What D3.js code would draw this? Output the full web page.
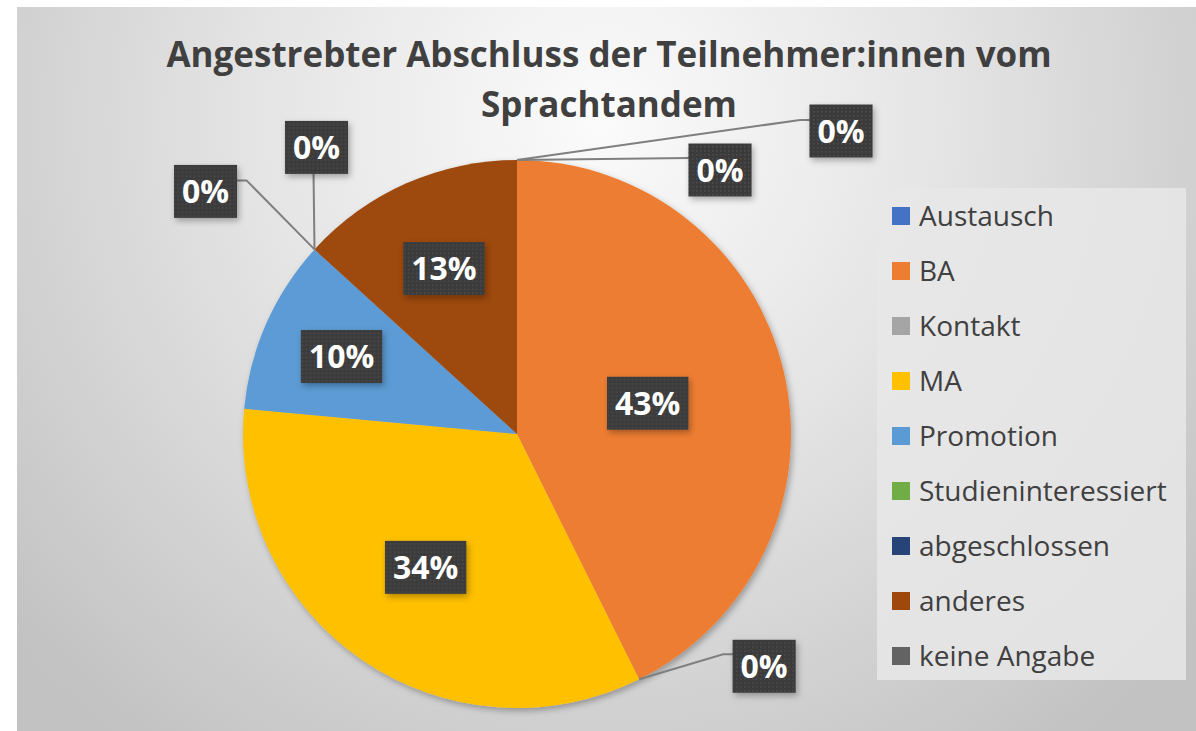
<!DOCTYPE html>
<html>
<head>
<meta charset="utf-8">
<script src="https://cdn.jsdelivr.net/npm/d3@7"></script>
<style>
  body { margin: 0; background: #fff; }
  svg text { font-family: "Open Sans", Lato, sans-serif; }
</style>
</head>
<body>
<div id="chart"></div>
<script>
// Angestrebter Abschluss - pie chart

var categories = ["Austausch", "BA", "Kontakt", "MA", "Promotion",
  "Studieninteressiert", "abgeschlossen", "anderes", "keine Angabe"];
var counts = [0, 29, 0, 23, 7, 0, 0, 9, 0];
var colors = ["#4472C4", "#ED7D31", "#A5A5A5", "#FFC000", "#5B9BD5",
  "#70AD47", "#264478", "#9E480E", "#636363"];
var titleLines = ["Angestrebter Abschluss der Teilnehmer:innen vom", "Sprachtandem"];

var width = 1196, height = 731;
var cx = 517, cy = 434, radius = 274;

// where the labels sit: inside slices by radius fraction, zero slices outside
var insideLabelRadius = { "BA": 0.49, "MA": 0.59, "Promotion": 0.7, "anderes": 0.66 };
// box centre and leader points relative to the slice's point on the rim
var outsideLabels = {
  "Austausch":           { box: [324, -29], leader: [[283, -40], [293, -40]] },
  "keine Angabe":        { box: [203, 10],  leader: [[172, -2]] },
  "Kontakt":             { box: [125, -13], leader: [[84, -25], [94, -25]] },
  "Studieninteressiert": { box: [-109, -58], leader: [[-68, -69], [-78, -69]] },
  "abgeschlossen":       { box: [2, -102],  leader: [[-1, -76]] }
};

var data = categories.map(function(c, i) {
  return { name: c, count: counts[i], color: colors[i] };
});
var total = d3.sum(counts);
var pct = d3.format(".0%");

var svg = d3.select("#chart").append("svg")
    .attr("width", width)
    .attr("height", height);

var defs = svg.append("defs");

var bg = defs.append("radialGradient")
    .attr("id", "bg")
    .attr("gradientUnits", "userSpaceOnUse")
    .attr("cx", 600).attr("cy", 120).attr("r", 780);
bg.append("stop").attr("offset", 0).attr("stop-color", "#fbfbfb");
bg.append("stop").attr("offset", 0.45).attr("stop-color", "#e4e4e4");
bg.append("stop").attr("offset", 1).attr("stop-color", "#c2c2c2");

var dots = defs.append("pattern")
    .attr("id", "dots")
    .attr("width", 4).attr("height", 4)
    .attr("patternUnits", "userSpaceOnUse");
dots.append("rect").attr("width", 4).attr("height", 4).attr("fill", "#3b3b3b");
dots.append("rect").attr("width", 1.5).attr("height", 1.5).attr("fill", "#4e4e4e");

var shadow = defs.append("filter").attr("id", "shadow")
    .attr("x", "-20%").attr("y", "-20%").attr("width", "140%").attr("height", "140%");
shadow.append("feDropShadow")
    .attr("dx", 2).attr("dy", 3).attr("stdDeviation", 3)
    .attr("flood-color", "#000").attr("flood-opacity", 0.3);

// chart area
svg.append("rect")
    .attr("x", 17).attr("y", 7)
    .attr("width", width - 17).attr("height", height - 7)
    .attr("fill", "url(#bg)");

// title
svg.append("g").selectAll("text")
    .data(titleLines)
  .enter().append("text")
    .attr("x", 609)
    .attr("y", function(d, i) { return 67 + i * 50; })
    .attr("text-anchor", "middle")
    .attr("font-size", 35)
    .attr("font-weight", "bold")
    .attr("fill", "#404040")
    .text(function(d) { return d; });

// pie
var pie = d3.pie().sort(null).value(function(d) { return d.count; });
var arcs = pie(data);
var arc = d3.arc().innerRadius(0).outerRadius(radius);

var g = svg.append("g").attr("transform", "translate(" + cx + "," + cy + ")");

g.append("g").attr("filter", "url(#shadow)")
  .selectAll("path")
    .data(arcs.filter(function(d) { return d.data.count > 0; }))
  .enter().append("path")
    .attr("d", arc)
    .attr("fill", function(d) { return d.data.color; });

function rimPoint(d) {
  var a = d.startAngle;
  return [radius * Math.sin(a), -radius * Math.cos(a)];
}

function addLabel(parent, x, y, txt) {
  var lg = parent.append("g").attr("transform", "translate(" + x + "," + y + ")");
  var t = lg.append("text")
      .attr("text-anchor", "middle")
      .attr("dy", "0.36em")
      .attr("font-size", 32)
      .attr("font-weight", "bold")
      .attr("fill", "#fff")
      .text(txt);
  var w = t.node().getComputedTextLength() + 16, h = 53;
  lg.insert("rect", "text")
      .attr("x", -w / 2).attr("y", -h / 2)
      .attr("width", w).attr("height", h)
      .attr("fill", "url(#dots)")
      .attr("filter", "url(#shadow)");
}

// leader lines for the empty slices
arcs.forEach(function(d) {
  var o = outsideLabels[d.data.name];
  if (!o) return;
  var p = rimPoint(d);
  var pts = [p].concat(o.leader.map(function(q) { return [p[0] + q[0], p[1] + q[1]]; }));
  g.append("path")
      .attr("d", d3.line()(pts))
      .attr("fill", "none")
      .attr("stroke", "#7f7f7f")
      .attr("stroke-width", 2);
});

arcs.forEach(function(d) {
  var txt = pct(d.data.count / total);
  var o = outsideLabels[d.data.name];
  if (o) {
    var p = rimPoint(d);
    addLabel(g, p[0] + o.box[0], p[1] + o.box[1], txt);
  } else {
    var r = radius * insideLabelRadius[d.data.name];
    var c = d3.arc().innerRadius(r).outerRadius(r).centroid(d);
    addLabel(g, c[0], c[1], txt);
  }
});

// legend
var legend = svg.append("g").attr("transform", "translate(877,188)");
legend.append("rect")
    .attr("width", 309).attr("height", 492)
    .attr("fill", "#e7e7e7")
    .attr("opacity", 0.85);

var item = legend.selectAll(".item")
    .data(data)
  .enter().append("g")
    .attr("class", "item")
    .attr("transform", function(d, i) { return "translate(15," + (28 + i * 55) + ")"; });

item.append("rect")
    .attr("x", 0).attr("y", -9)
    .attr("width", 18).attr("height", 18)
    .attr("fill", function(d) { return d.color; });

item.append("text")
    .attr("x", 27)
    .attr("dy", "0.36em")
    .attr("font-size", 28)
    .attr("fill", "#404040")
    .text(function(d) { return d.name; });
</script>
</body>
</html>
